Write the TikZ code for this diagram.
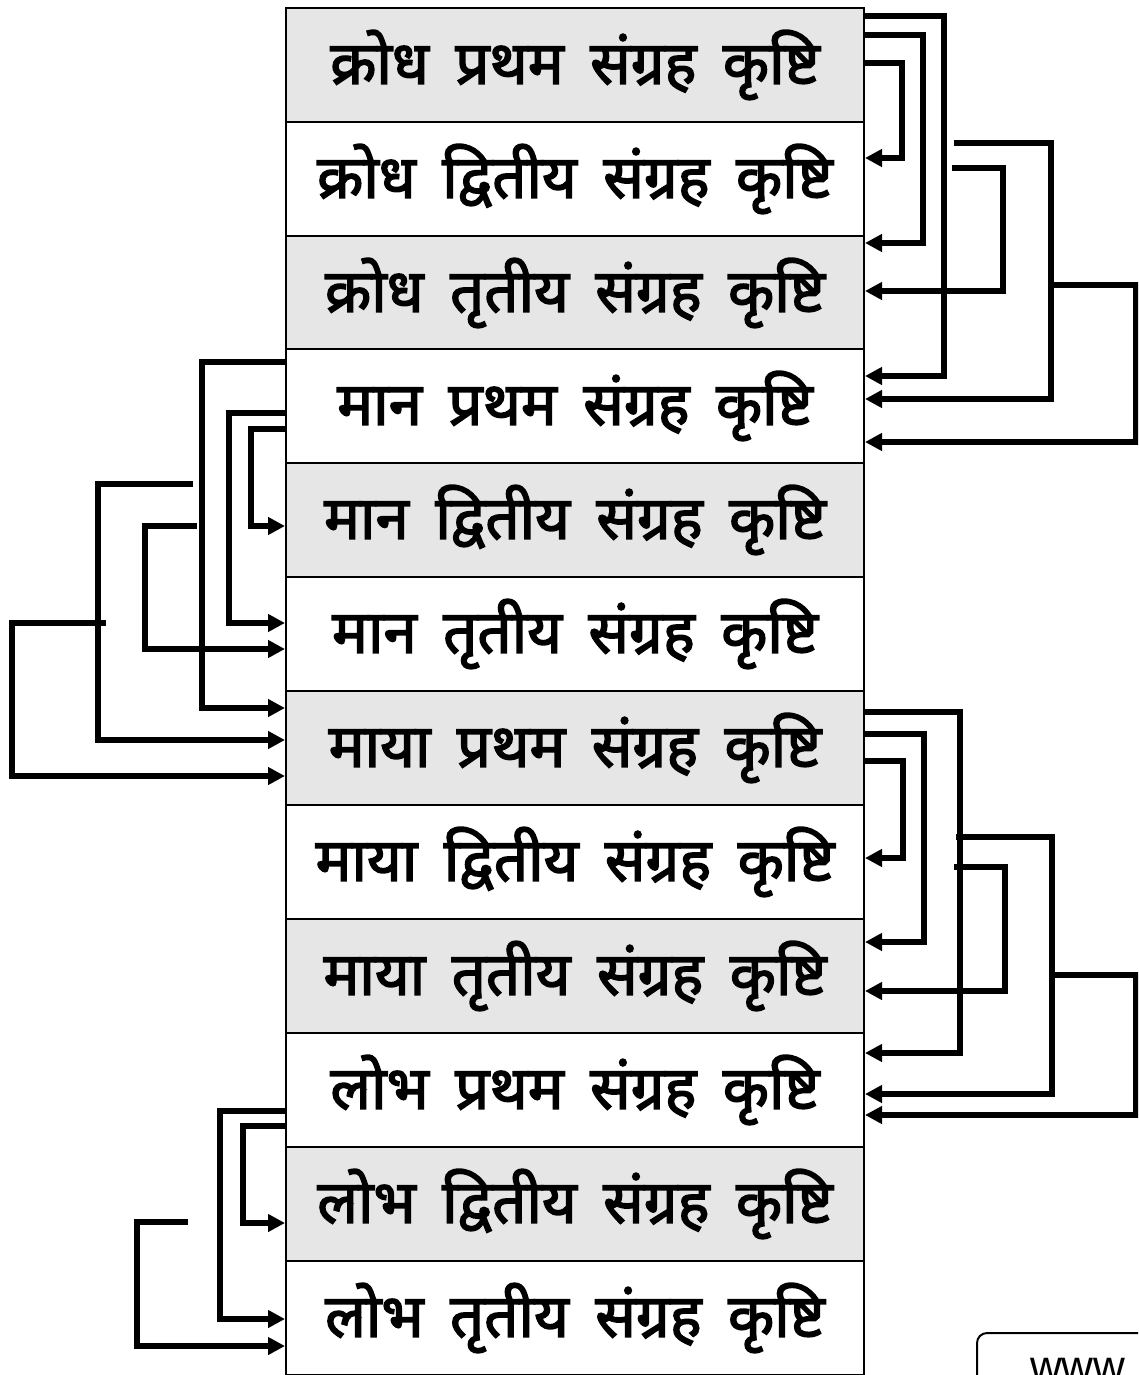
\documentclass[tikz,border=0pt]{standalone}
\usepackage{fontspec}
\usetikzlibrary{arrows.meta}
\newfontfamily\deva[Script=Devanagari, FakeBold=2.5, WordSpace=1.7]{Noto Sans}
\newfontfamily\wwwfont{Liberation Sans}
\definecolor{rowgray}{HTML}{E6E6E6}
\tikzset{
  rowbox/.style={draw=black, line width=2pt, minimum width=578pt, minimum height=113.9pt, inner sep=0pt,
    font=\deva\fontsize{60}{70}\selectfont},
  grayrow/.style={rowbox, fill=rowgray},
  whiterow/.style={rowbox, fill=white},
  conn/.style={line width=5.5pt, line join=miter, -{Triangle[length=17pt,width=17pt]}},
}
\begin{document}
\begin{tikzpicture}[x=1pt,y=-1pt]
\useasboundingbox (0,0) rectangle (1138,1375);
\begin{scope}
\clip (0,0) rectangle (1138,1375);
\node[grayrow]  (r1)  at (575,65)   {क्रोध प्रथम संग्रह कृष्टि};
\node[whiterow] (r2)  at (575,179)  {क्रोध द्वितीय संग्रह कृष्टि};
\node[grayrow]  (r3)  at (575,293)  {क्रोध तृतीय संग्रह कृष्टि};
\node[whiterow] (r4)  at (575,406)  {मान प्रथम संग्रह कृष्टि};
\node[grayrow]  (r5)  at (575,520)  {मान द्वितीय संग्रह कृष्टि};
\node[whiterow] (r6)  at (575,634)  {मान तृतीय संग्रह कृष्टि};
\node[grayrow]  (r7)  at (575,748)  {माया प्रथम संग्रह कृष्टि};
\node[whiterow] (r8)  at (575,862)  {माया द्वितीय संग्रह कृष्टि};
\node[grayrow]  (r9)  at (575,976)  {माया तृतीय संग्रह कृष्टि};
\node[whiterow] (r10) at (575,1090) {लोभ प्रथम संग्रह कृष्टि};
\node[grayrow]  (r11) at (575,1204) {लोभ द्वितीय संग्रह कृष्टि};
\node[whiterow] (r12) at (575,1318) {लोभ तृतीय संग्रह कृष्टि};

% free ends
\coordinate (fa) at (954,143);
\coordinate (fb) at (952,168);
\coordinate (fc) at (193,484);
\coordinate (fd) at (197,526);
\coordinate (fe) at (956,837);
\coordinate (ff) at (954,867);
\coordinate (fg) at (188,1222);
\coordinate (ja) at (1051,285);
\coordinate (jb) at (106,623);
\coordinate (jc) at (1052,975);

% right top
\draw[conn] (r1.east |- 0,16) -| (944,376) -- (r4.east |- 0,376);
\draw[conn] (r1.east |- 0,35) -| (923,243) -- (r3.east |- 0,243);
\draw[conn] (r1.east |- 0,63) -| (902,158) -- (r2.east |- 0,158);
\draw[conn] (fa) -| (1051,399) -- (r4.east |- 0,399);
\draw[conn] (ja) -| (1136,442) -- (r4.east |- 0,442);
\draw[conn] (fb) -| (1003,291) -- (r3.east |- 0,291);

% left middle
\draw[conn] (r4.west |- 0,362) -| (202,708) -- (r7.west |- 0,708);
\draw[conn] (r4.west |- 0,413) -| (229,623) -- (r6.west |- 0,623);
\draw[conn] (r4.west |- 0,429) -| (251,526) -- (r5.west |- 0,526);
\draw[conn] (fc) -| (98,740) -- (r7.west |- 0,740);
\draw[conn] (jb) -| (12,776) -- (r7.west |- 0,776);
\draw[conn] (fd) -| (145,649) -- (r6.west |- 0,649);

% right bottom
\draw[conn] (r7.east |- 0,712) -| (960,1053) -- (r10.east |- 0,1053);
\draw[conn] (r7.east |- 0,734) -| (924,942) -- (r9.east |- 0,942);
\draw[conn] (r7.east |- 0,761) -| (903,858) -- (r8.east |- 0,858);
\draw[conn] (fe) -| (1052,1094) -- (r10.east |- 0,1094);
\draw[conn] (jc) -| (1136,1115) -- (r10.east |- 0,1115);
\draw[conn] (ff) -| (1005,991) -- (r9.east |- 0,991);

% left bottom
\draw[conn] (r10.west |- 0,1111) -| (220,1319) -- (r12.west |- 0,1319);
\draw[conn] (r10.west |- 0,1126) -| (243,1223) -- (r11.west |- 0,1223);
\draw[conn] (fg) -| (137,1346) -- (r12.west |- 0,1346);

% watermark box (cropped at the picture's edge, as in the reference)
\draw[line width=2pt, rounded corners=10pt] (977,1450) -- (977,1333) -- (1250,1333);
\node[anchor=base west, inner sep=0pt, font=\wwwfont\fontsize{44}{50}\selectfont] (www) at (1030,1381) {www};
\end{scope}
\end{tikzpicture}
\end{document}
